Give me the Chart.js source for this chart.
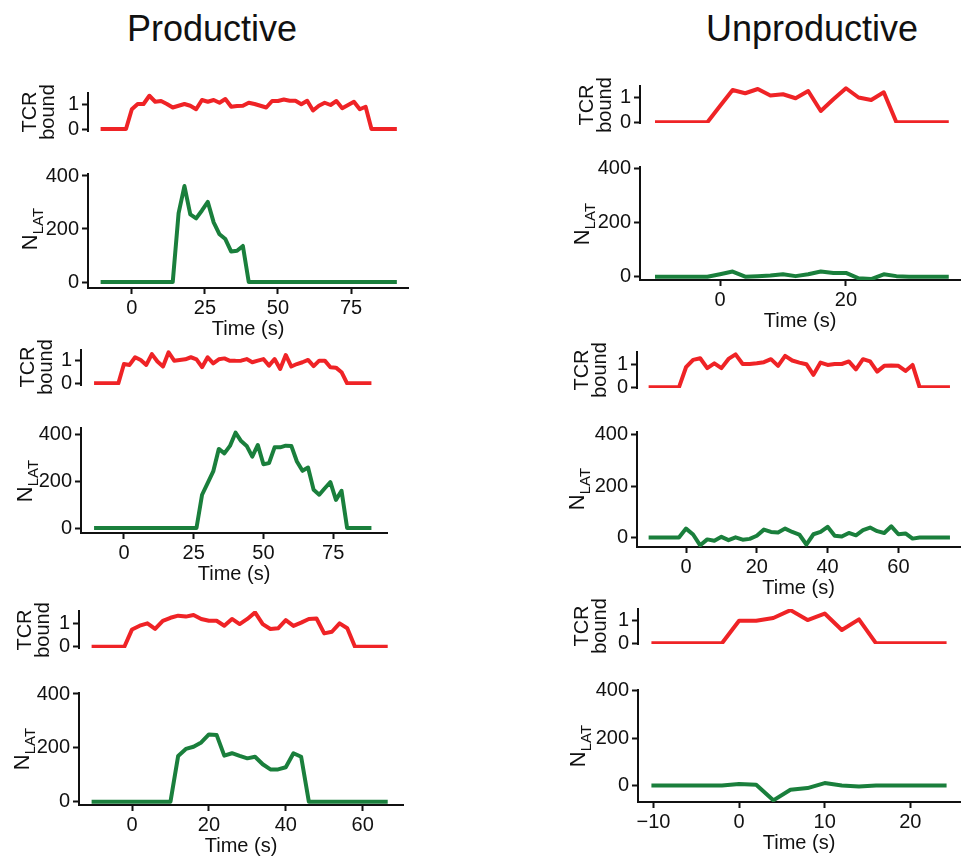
<!DOCTYPE html>
<html>
<head>
<meta charset="utf-8">
<script src="https://cdn.jsdelivr.net/npm/chart.js"></script>
<style>
  html, body { margin: 0; padding: 0; background: #fff; overflow: hidden; }
  #fig { position: relative; width: 961px; height: 858px; overflow: hidden; font-family: "Liberation Sans", Arial, sans-serif; color: #111; }
  #fig canvas { position: absolute; }
  .title { position: absolute; font-size: 36px; line-height: 36px; white-space: nowrap; transform: translateX(-50%); }
  .ylab { position: absolute; font-size: 20px; line-height: 18px; text-align: center; white-space: nowrap;
          transform: translate(-50%, -50%) rotate(-90deg); }
  .ylab.lat { font-size: 22px; line-height: 22px; }
  .ylab sub { font-size: 15px; vertical-align: -6px; line-height: 0; }
</style>
</head>
<body>
<div id="fig"></div>
<script>
// sample times (s) of each simulated trajectory
const timeP1 = [-10,-8,-6,-4,-2,0,2,4,6,8,10,12,14,16,18,20,22,24,26,28,30,32,34,36,38,40,42,44,46,48,50,52,54,56,58,60,62,64,66,68,70,72,74,76,78,80,82,84,86,88,90];
const timeP2 = [-10,-8,-6,-4,-2,0,2,4,6,8,10,12,14,16,18,20,22,24,26,28,30,32,34,36,38,40,42,44,46,48,50,52,54,56,58,60,62,64,66,68,70,72,74,76,78,80,82,84,86,88];
const timeP3 = [-10,-8,-6,-4,-2,0,2,4,6,8,10,12,14,16,18,20,22,24,26,28,30,32,34,36,38,40,42,44,46,48,50,52,54,56,58,60,62,64,66];
const timeU1 = [-10,-8,-6,-4,-2,0,2,4,6,8,10,12,14,16,18,20,22,24,26,28,30,32,34,36];
const timeU2 = [-10,-8,-6,-4,-2,0,2,4,6,8,10,12,14,16,18,20,22,24,26,28,30,32,34,36,38,40,42,44,46,48,50,52,54,56,58,60,62,64,66,68,70,72,74];
const timeU3 = [-10,-8,-6,-4,-2,0,2,4,6,8,10,12,14,16,18,20,22,24];

// TCR bound (productive trials)
const tcrP1 = [0,0,0,0,0,0.79,1.0,1.0,1.33,1.09,1.12,1.0,0.86,0.93,1.0,0.93,0.79,1.16,1.09,1.16,1.05,1.2,0.89,0.92,0.93,1.05,1.0,0.93,0.86,1.12,1.12,1.18,1.13,1.13,0.99,1.13,0.74,0.93,1.05,0.96,1.12,0.83,0.96,1.09,0.79,0.89,0,0,0,0,0];
const tcrP2 = [0,0,0,0,0,0.85,0.81,1.15,1.03,0.81,1.29,0.96,0.74,1.37,1.0,1.03,1.06,1.15,1.06,0.71,1.15,0.88,1.06,1.1,0.99,0.99,1.0,1.07,0.93,1.0,1.07,0.78,1.07,0.63,1.25,0.74,0.85,0.93,1.03,0.76,1.0,1.0,0.71,0.69,0.49,0,0,0,0,0];
const tcrP3 = [0,0,0,0,0,0.74,0.9,1.0,0.76,1.11,1.24,1.33,1.29,1.36,1.19,1.11,1.11,0.9,1.19,0.97,1.19,1.47,0.97,0.76,0.79,1.14,0.89,1.03,1.19,1.21,0.57,0.64,1.0,0.79,0,0,0,0,0];

// N_LAT (productive trials)
const latP1 = [0,0,0,0,0,0,0,0,0,0,0,0,0,260,362,255,240,270,302,225,180,162,115,118,136,0,0,0,0,0,0,0,0,0,0,0,0,0,0,0,0,0,0,0,0,0,0,0,0,0,0];
const latP2 = [0,0,0,0,0,0,0,0,0,0,0,0,0,0,0,0,0,0,0,143,193,243,340,321,353,410,374,353,307,357,274,279,347,347,354,353,286,246,260,164,143,171,197,121,160,0,0,0,0,0];
const latP3 = [0,0,0,0,0,0,0,0,0,0,0,170,196,204,220,250,248,171,180,170,161,167,139,120,120,128,180,167,0,0,0,0,0,0,0,0,0,0,0];

// TCR bound (unproductive trials)
const tcrU1 = [0,0,0,0,0,0.65,1.29,1.16,1.33,1.07,1.12,0.96,1.25,0.45,0.92,1.36,0.99,0.89,1.2,0,0,0,0,0];
const tcrU2 = [0,0,0,0,0,0.87,1.19,1.26,0.83,1.04,0.83,1.23,1.43,1.01,1.01,1.04,1.09,1.22,0.93,1.36,1.16,1.07,1.0,0.54,1.07,0.97,1.01,1.01,1.12,0.78,1.22,1.12,0.68,0.93,0.94,0.93,0.71,0.97,0,0,0,0,0];
const tcrU3 = [0,0,0,0,0,1.0,1.0,1.12,1.47,1.03,1.32,0.59,1.06,0,0,0,0,0];

// N_LAT (unproductive trials)
const latU1 = [0,0,0,0,0,9,19,0,2,4,9,2,9,19,14,14,-6,-9,9,2,0,0,0,0];
const latU2 = [0,0,0,0,0,35,12,-30,-7,-12,3,-10,1,-8,-5,7,31,22,20,35,22,12,-27,13,22,42,7,4,18,9,29,39,25,18,44,13,16,-4,0,0,0,0,0];
const latU3 = [0,0,0,0,0,6,3,-63,-18,-11,10,0,-4,0,0,0,0,0];

// tick values
const tcrTicks = [0, 1];
const latTicks = [0, 200, 400];
const xTicksP12 = [0, 25, 50, 75];
const xTicksP3 = [0, 20, 40, 60];
const xTicksU1 = [0, 20];
const xTicksU2 = [0, 20, 40, 60];
const xTicksU3 = [-10, 0, 10, 20];

const RED = '#ef2326';
const GREEN = '#1a7f3c';
const INK = '#111111';

Chart.defaults.font.family = "'Liberation Sans', Arial, sans-serif";

// plot boxes are [left, top, right, bottom] in page pixels
const panels = [
  { box: [88, 93, 408, 131],   x: [-15, 94.5],   y: [-0.08, 1.44],  yTicks: tcrTicks, time: timeP1, values: tcrP1, color: RED },
  { box: [88, 174, 408, 288],  x: [-15, 94.5],   y: [-22.6, 407.5], yTicks: latTicks, xTicks: xTicksP12, time: timeP1, values: latP1, color: GREEN },
  { box: [81, 350, 387, 385],  x: [-15.4, 94.3], y: [-0.075, 1.47], yTicks: tcrTicks, time: timeP2, values: tcrP2, color: RED },
  { box: [81, 428, 387, 533],  x: [-15.4, 94.3], y: [-21.5, 430],   yTicks: latTicks, xTicks: xTicksP12, time: timeP2, values: latP2, color: GREEN },
  { box: [79, 611, 403, 648],  x: [-13.8, 70.5], y: [-0.056, 1.53], yTicks: tcrTicks, time: timeP3, values: tcrP3, color: RED },
  { box: [79, 693, 403, 805],  x: [-13.8, 70.5], y: [-12.3, 403.7], yTicks: latTicks, xTicks: xTicksP3, time: timeP3, values: latP3, color: GREEN },
  { box: [640, 86, 960, 123],  x: [-12.7, 38.1], y: [-0.03, 1.45],  yTicks: tcrTicks, time: timeU1, values: tcrU1, color: RED },
  { box: [640, 167, 960, 280], x: [-12.7, 38.1], y: [-12.3, 407],   yTicks: latTicks, xTicks: xTicksU1, time: timeU1, values: latU1, color: GREEN },
  { box: [637, 352, 960, 388], x: [-13.85, 77.4], y: [-0.03, 1.53], yTicks: tcrTicks, time: timeU2, values: tcrU2, color: RED },
  { box: [637, 432, 960, 547], x: [-13.85, 77.4], y: [-36.7, 411.6], yTicks: latTicks, xTicks: xTicksU2, time: timeU2, values: latU2, color: GREEN },
  { box: [638, 609, 960, 644], x: [-11.8, 25.8], y: [-0.03, 1.52],  yTicks: tcrTicks, time: timeU3, values: tcrU3, color: RED },
  { box: [638, 690, 960, 802], x: [-11.8, 25.8], y: [-70, 404],     yTicks: latTicks, xTicks: xTicksU3, time: timeU3, values: latU3, color: GREEN }
];

const titles = [
  { text: 'Productive', cx: 212, top: 11 },
  { text: 'Unproductive', cx: 812, top: 11 }
];

const yLabels = [
  { html: 'TCR<br>bound', cx: 38, cy: 112 },
  { html: 'N<sub>LAT</sub>', cx: 30, cy: 229, lat: true },
  { html: 'TCR<br>bound', cx: 36, cy: 367 },
  { html: 'N<sub>LAT</sub>', cx: 25, cy: 481, lat: true },
  { html: 'TCR<br>bound', cx: 33, cy: 630 },
  { html: 'N<sub>LAT</sub>', cx: 22, cy: 749, lat: true },
  { html: 'TCR<br>bound', cx: 595, cy: 105 },
  { html: 'N<sub>LAT</sub>', cx: 582, cy: 224, lat: true },
  { html: 'TCR<br>bound', cx: 590, cy: 370 },
  { html: 'N<sub>LAT</sub>', cx: 577, cy: 489, lat: true },
  { html: 'TCR<br>bound', cx: 590, cy: 626 },
  { html: 'N<sub>LAT</sub>', cx: 578, cy: 746, lat: true }
];

const fig = document.getElementById('fig');
const AXIS_W = 60;   // room for y tick labels left of each plot
const PAD = 20;
const X_ROOM = 56;   // x tick labels + "Time (s)"

function minus(v) {
  return String(v).replace('-', '\u2212');
}

function makePanel(p) {
  const [l, t, r, b] = p.box;
  const hasX = !!p.xTicks;
  const w = (r - l) + AXIS_W + PAD;
  const h = (b - t) + PAD + (hasX ? X_ROOM : PAD);
  const cv = document.createElement('canvas');
  cv.width = w; cv.height = h;
  cv.style.left = (l - AXIS_W) + 'px';
  cv.style.top = (t - PAD) + 'px';
  cv.style.width = w + 'px';
  cv.style.height = h + 'px';
  fig.appendChild(cv);

  const spine = { display: true, color: INK, width: 2 };
  const tickMarks = { drawOnChartArea: false, drawTicks: true, tickLength: 6, tickWidth: 2, tickColor: INK };

  new Chart(cv, {
    type: 'line',
    data: {
      datasets: [{
        data: p.time.map((x, i) => ({ x, y: p.values[i] })),
        borderColor: p.color,
        borderWidth: 4,
        borderJoinStyle: 'round',
        borderCapStyle: 'square',
        pointRadius: 0,
        tension: 0,
        fill: false
      }]
    },
    options: {
      responsive: false,
      animation: false,
      events: [],
      layout: { padding: { left: 0, top: PAD, right: PAD, bottom: hasX ? 0 : PAD } },
      plugins: { legend: { display: false }, tooltip: { enabled: false } },
      scales: {
        x: {
          type: 'linear',
          min: p.x[0], max: p.x[1],
          display: hasX,
          afterBuildTicks: s => { s.ticks = (p.xTicks || []).map(v => ({ value: v })); },
          afterFit: s => { if (hasX) s.height = X_ROOM; },
          border: spine,
          grid: tickMarks,
          ticks: { color: INK, font: { size: 20 }, padding: 2, maxRotation: 0, autoSkip: false, callback: minus },
          title: { display: true, text: 'Time (s)', color: INK, font: { size: 20 }, padding: { top: 0, bottom: 3 } }
        },
        y: {
          type: 'linear',
          min: p.y[0], max: p.y[1],
          afterBuildTicks: s => { s.ticks = p.yTicks.map(v => ({ value: v })); },
          afterFit: s => { s.width = AXIS_W; },
          border: spine,
          grid: tickMarks,
          ticks: { color: INK, font: { size: 20 }, padding: 3, autoSkip: false, callback: minus }
        }
      }
    }
  });
}

panels.forEach(makePanel);

titles.forEach(tl => {
  const d = document.createElement('div');
  d.className = 'title';
  d.textContent = tl.text;
  d.style.left = tl.cx + 'px';
  d.style.top = tl.top + 'px';
  fig.appendChild(d);
});

yLabels.forEach(yl => {
  const d = document.createElement('div');
  d.className = yl.lat ? 'ylab lat' : 'ylab';
  d.innerHTML = yl.html;
  d.style.left = yl.cx + 'px';
  d.style.top = yl.cy + 'px';
  fig.appendChild(d);
});
</script>
</body>
</html>
